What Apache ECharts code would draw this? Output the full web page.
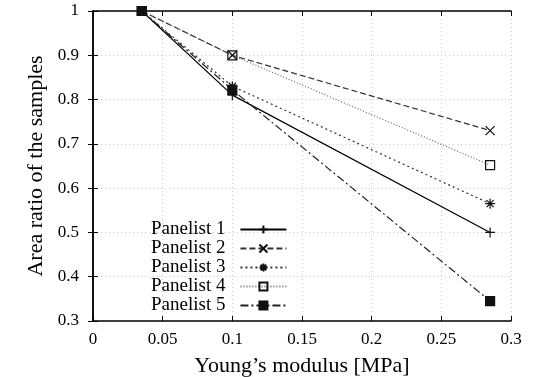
<!DOCTYPE html>
<html>
<head>
<meta charset="utf-8">
<script src="https://cdn.jsdelivr.net/npm/echarts@6/dist/echarts.min.js"></script>
<style>
  html, body { margin: 0; padding: 0; background: #fff; }
  #chart { width: 539px; height: 377px; }
</style>
</head>
<body>
<div id="chart"></div>
<script>
// values
const modulus = [0.035, 0.1, 0.285];
const panelist1 = [1.0, 0.81, 0.5];
const panelist2 = [1.0, 0.9, 0.73];
const panelist3 = [1.0, 0.83, 0.565];
const panelist4 = [1.0, 0.9, 0.652];
const panelist5 = [1.0, 0.822, 0.345];
const seriesNames = ["Panelist 1", "Panelist 2", "Panelist 3", "Panelist 4", "Panelist 5"];

const FONT = "Liberation Serif";

// marker shapes
const plusPath = "path://M5,0L5,10M0,5L10,5";
const crossPath = "path://M1,1L9,9M9,1L1,9";
const starPath = "path://M5,0L5,10M0,5L10,5M1.5,1.5L8.5,8.5M8.5,1.5L1.5,8.5";

const toPairs = (ys) => modulus.map((x, i) => [x, ys[i]]);

const makeSeries = (name, ys, symbol, size, lineType, color, filled) => ({
  name: name,
  type: "line",
  data: toPairs(ys),
  symbol: symbol,
  symbolSize: size,
  showSymbol: true,
  lineStyle: { color: color, width: 1.2, type: lineType },
  itemStyle: {
    color: filled ? "#111" : "transparent",
    borderColor: "#111",
    borderWidth: 1.2
  },
  emphasis: { disabled: true },
  z: 3
});

const chart = echarts.init(document.getElementById("chart"));

const axisLine = { show: true, lineStyle: { color: "#000", width: 1.5 } };
const splitLine = { show: true, lineStyle: { color: "#ccc", type: [1, 3], width: 1 } };
const ticks = { show: true, inside: true, length: 5, lineStyle: { color: "#000" } };

chart.setOption({
  animation: false,
  grid: { left: 93, right: 28, top: 11, bottom: 56, outerBoundsMode: "none" },
  legend: {
    orient: "vertical",
    left: 146,
    top: 215,
    align: "right",
    itemWidth: 46,
    itemHeight: 10,
    itemGap: 0,
    textStyle: { fontFamily: FONT, fontSize: 19, color: "#000", padding: [0, 10, 0, 0] },
    data: seriesNames
  },
  xAxis: [
    {
      type: "value",
      min: 0,
      max: 0.3,
      interval: 0.05,
      name: "Young\u2019s modulus [MPa]",
      nameLocation: "middle",
      nameGap: 34,
      nameTextStyle: { fontFamily: FONT, fontSize: 22, color: "#000" },
      axisLine: axisLine,
      axisTick: ticks,
      axisLabel: { fontFamily: FONT, fontSize: 17, color: "#000", margin: 10 },
      splitLine: splitLine
    },
    {
      type: "value",
      position: "top",
      min: 0,
      max: 0.3,
      interval: 0.05,
      axisLine: axisLine,
      axisTick: ticks,
      axisLabel: { show: false },
      splitLine: { show: false }
    }
  ],
  yAxis: [
    {
      type: "value",
      min: 0.3,
      max: 1,
      interval: 0.1,
      name: "Area ratio of the samples",
      nameLocation: "middle",
      nameRotate: 90,
      nameGap: 46,
      nameTextStyle: { fontFamily: FONT, fontSize: 22, color: "#000" },
      axisLine: axisLine,
      axisTick: ticks,
      axisLabel: {
        fontFamily: FONT, fontSize: 17, color: "#000", margin: 14,
        formatter: (v) => (Math.abs(v - 1) < 1e-9 ? "1" : v.toFixed(1))
      },
      splitLine: splitLine
    },
    {
      type: "value",
      position: "right",
      min: 0.3,
      max: 1,
      interval: 0.1,
      axisLine: axisLine,
      axisTick: ticks,
      axisLabel: { show: false },
      splitLine: { show: false }
    }
  ],
  series: [
    makeSeries(seriesNames[0], panelist1, plusPath, 10, "solid", "#000", false),
    makeSeries(seriesNames[1], panelist2, crossPath, 9, [6, 3], "#333", false),
    makeSeries(seriesNames[2], panelist3, starPath, 10, [2, 3], "#333", false),
    makeSeries(seriesNames[3], panelist4, "rect", 9, [1, 2], "#666", false),
    makeSeries(seriesNames[4], panelist5, "rect", 9, [8, 3, 2, 3], "#222", true)
  ]
});
</script>
</body>
</html>
